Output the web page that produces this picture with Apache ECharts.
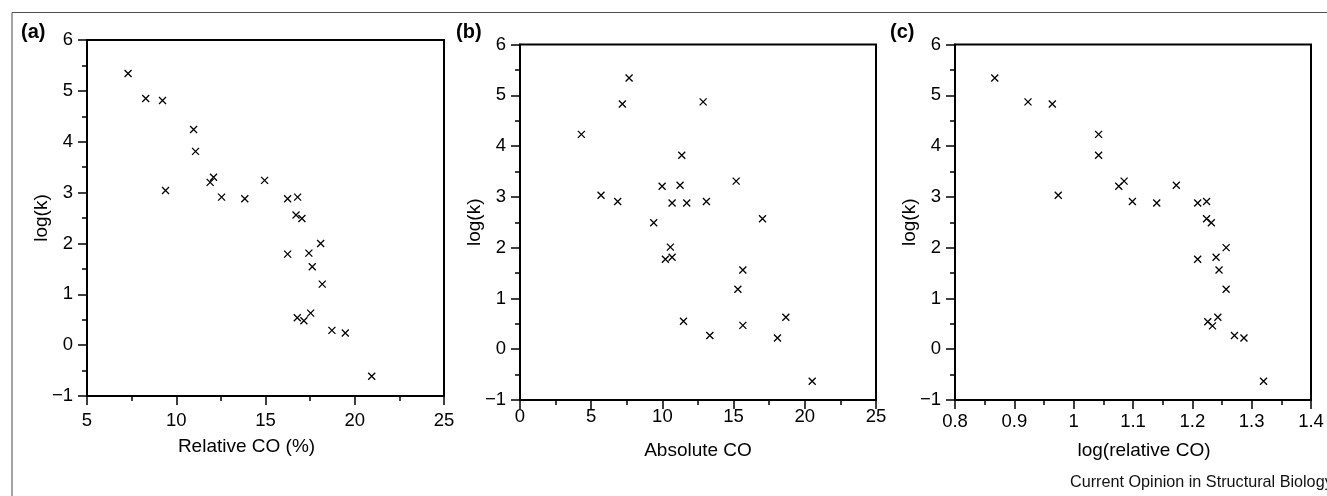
<!DOCTYPE html>
<html><head><meta charset="utf-8">
<script src="https://cdn.jsdelivr.net/npm/echarts@6/dist/echarts.min.js"></script>
<style>html,body{margin:0;padding:0;background:#fff}#c{width:1327px;height:496px}</style>
</head><body><div id="c"></div>
<script>
// Panel (a): Relative CO (%) vs log(k)
const relCO_a = [7.30, 8.29, 9.23, 10.97, 11.08, 9.40, 11.90, 12.09, 12.54, 13.84, 14.95, 16.24, 16.80, 16.71, 17.04, 16.24, 17.43, 18.09, 17.62, 18.18, 16.78, 17.15, 17.53, 18.72, 19.47, 20.95];
const logK_a   = [5.34, 4.85, 4.81, 4.24, 3.81, 3.04, 3.20, 3.30, 2.91, 2.88, 3.24, 2.88, 2.91, 2.56, 2.49, 1.79, 1.81, 2.00, 1.54, 1.20, 0.54, 0.48, 0.63, 0.29, 0.24, -0.61];
// Panel (b): Absolute CO vs log(k)
const absCO_b = [7.66, 7.19, 12.86, 4.31, 11.36, 5.69, 6.86, 9.98, 11.24, 10.68, 11.71, 13.09, 15.18, 9.39, 17.03, 10.56, 10.21, 10.68, 15.65, 15.30, 11.48, 13.33, 15.65, 18.67, 18.08, 20.52];
const logK_b  = [5.34, 4.83, 4.87, 4.23, 3.82, 3.03, 2.91, 3.21, 3.23, 2.88, 2.88, 2.91, 3.31, 2.49, 2.57, 2.01, 1.77, 1.81, 1.56, 1.18, 0.55, 0.27, 0.47, 0.63, 0.22, -0.63];
// Panel (c): log(relative CO) vs log(k)
const logRelCO_c = [0.867, 0.923, 0.964, 1.042, 1.042, 0.974, 1.076, 1.085, 1.099, 1.140, 1.173, 1.209, 1.224, 1.224, 1.232, 1.209, 1.240, 1.257, 1.245, 1.257, 1.226, 1.234, 1.243, 1.271, 1.287, 1.320];
const logK_c     = [5.34, 4.87, 4.83, 4.23, 3.82, 3.03, 3.21, 3.31, 2.91, 2.88, 3.23, 2.88, 2.91, 2.57, 2.49, 1.77, 1.81, 2.00, 1.56, 1.18, 0.54, 0.46, 0.63, 0.27, 0.22, -0.63];

const panelLetters = ['(a)', '(b)', '(c)'];
const xNames = ['Relative CO (%)', 'Absolute CO', 'log(relative CO)'];
const yName = 'log(k)';
const xRanges = [[5, 25, 5], [0, 25, 5], [0.8, 1.4, 0.1]];
const yRange = [-1, 6, 1];
const footer = 'Current Opinion in Structural Biology';

const FONT = '"Liberation Sans", Arial, Helvetica, sans-serif';
const grids = [
  {left: 87, top: 40, width: 357, height: 356},
  {left: 520, top: 44.5, width: 356, height: 355.5},
  {left: 955, top: 44.5, width: 356, height: 355.5}
];
const xLabelMargin = [15, 7, 12];
const xNamePad = [[0, 38, 0, 0], [0, 0, 0, 0], [0, 0, 0, 22]];
const letterPos = [21, 456, 890];

const fmt = v => String(v).replace('-', '\u2212');
const blk = '#000';

function axisCommon() {
  return {
    type: 'value',
    axisLine: {show: true, onZero: false, lineStyle: {color: blk, width: 2}},
    axisTick: {show: true, inside: false, length: 9, lineStyle: {color: blk, width: 1.5}},
    minorTick: {show: true, splitNumber: 2, length: 5, lineStyle: {color: blk, width: 1.5}},
    splitLine: {show: false},
    minorSplitLine: {show: false},
    nameLocation: 'middle',
    nameMoveOverlap: false,
    nameTextStyle: {fontSize: 19, color: blk, fontFamily: FONT},
    axisLabel: {fontSize: 18.5, color: blk, fontFamily: FONT, formatter: fmt, showMinLabel: true, showMaxLabel: true, hideOverlap: false}
  };
}

const xAxes = [], yAxes = [], series = [];
const xs = [relCO_a, absCO_b, logRelCO_c];
const ys = [logK_a, logK_b, logK_c];
for (let i = 0; i < 3; i++) {
  const xa = axisCommon();
  Object.assign(xa, {gridIndex: i, min: xRanges[i][0], max: xRanges[i][1], interval: xRanges[i][2], name: xNames[i], nameGap: 41});
  xa.axisLabel.margin = xLabelMargin[i];
  xa.nameTextStyle.padding = xNamePad[i];
  xAxes.push(xa);
  const ya = axisCommon();
  Object.assign(ya, {gridIndex: i, min: yRange[0], max: yRange[1], interval: yRange[2], name: yName, nameGap: 36});
  ya.axisLabel.margin = 14;
  yAxes.push(ya);
  series.push({
    type: 'scatter', xAxisIndex: i, yAxisIndex: i,
    data: xs[i].map((x, k) => [x, ys[i][k]]),
    symbol: 'path://M0,0L10,10M10,0L0,10',
    symbolSize: 7,
    itemStyle: {color: 'rgba(0,0,0,0)', borderColor: blk, borderWidth: 1.3, opacity: 1},
    emphasis: {disabled: true},
    silent: true, animation: false
  });
}

const graphics = [
  {type: 'rect', left: 9.5, top: 10, shape: {x: 0, y: 0, width: 1400, height: 600}, style: {fill: 'none', stroke: '#4d4d4d', lineWidth: 1}, silent: true, z: -1}
];
for (let i = 0; i < 3; i++) {
  graphics.push({type: 'text', left: letterPos[i], top: 22, style: {text: panelLetters[i], font: 'bold 20px ' + FONT, fill: blk}});
}
graphics.push({type: 'text', left: 1070, top: 475, style: {text: footer, font: '16.2px ' + FONT, fill: '#111'}});

const chart = echarts.init(document.getElementById('c'), null, {renderer: 'canvas'});
chart.setOption({
  animation: false,
  backgroundColor: '#fff',
  grid: grids.map(g => Object.assign({show: true, borderColor: blk, borderWidth: 2, backgroundColor: 'transparent', containLabel: false, outerBoundsMode: 'none'}, g)),
  xAxis: xAxes,
  yAxis: yAxes,
  series: series,
  graphic: graphics
});
</script></body></html>
